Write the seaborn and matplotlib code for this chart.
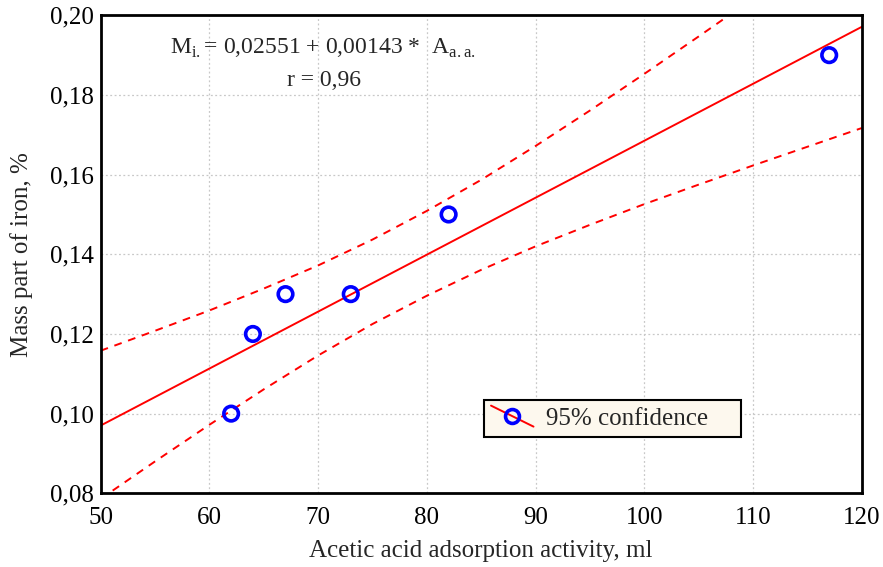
import numpy as np
import pandas as pd
import matplotlib
matplotlib.use("Agg")
import matplotlib.pyplot as plt
import seaborn as sns
from matplotlib.lines import Line2D
from matplotlib.legend_handler import HandlerBase
from matplotlib.ticker import FuncFormatter

# measured points
activity = [62, 64, 67, 73, 82, 117]
iron = [0.10, 0.12, 0.13, 0.13, 0.15, 0.19]

# fitted line
intercept = 0.02551
slope = 0.00143
line_x = [50, 120]

# 95% confidence band
band_x = [50, 55, 60, 65, 70, 75, 80, 85, 90, 95, 100, 105, 110, 115, 120]
band_upper = [0.1158, 0.1208, 0.1259, 0.1314, 0.1372, 0.1437, 0.1509, 0.1587,
              0.1672, 0.1761, 0.1853, 0.1947, 0.2042, 0.2138, 0.2235]
band_lower = [0.0786, 0.0880, 0.0972, 0.1061, 0.1146, 0.1225, 0.1296, 0.1361,
              0.1420, 0.1474, 0.1526, 0.1575, 0.1623, 0.1670, 0.1717]


class DiagHandler(HandlerBase):
    # red line drawn diagonally through the marker, like the original legend
    def create_artists(self, legend, orig, xd, yd, w, h, fs, trans):
        ln = Line2D([0, w], [h * 1.1, -h * 0.1], color="red", lw=1.4, transform=trans)
        mk = Line2D([w / 2], [h / 2], marker="o", markersize=10, markerfacecolor="none",
                    markeredgecolor="#0000ff", markeredgewidth=2.6, transform=trans)
        return [ln, mk]


sns.set_style("white")
plt.rcParams['font.family'] = ['Liberation Serif', 'DejaVu Serif']

df = pd.DataFrame({"x": activity, "y": iron})
fit = pd.DataFrame({"x": line_x, "y": [intercept + slope * v for v in line_x]})
band = pd.DataFrame({"x": band_x, "up": band_upper, "lo": band_lower})

fig = plt.figure(figsize=(8.83, 5.67), dpi=100)
ax = fig.add_axes([0.114, 0.13, 0.862, 0.843])

sns.lineplot(data=fit, x="x", y="y", color="red", lw=1.4, ax=ax)
sns.lineplot(data=band, x="x", y="up", color="red", lw=1.4, ax=ax, linestyle=(0, (4, 3.5)))
sns.lineplot(data=band, x="x", y="lo", color="red", lw=1.4, ax=ax, linestyle=(0, (4, 3.5)))
sns.scatterplot(data=df, x="x", y="y", s=110, facecolor="none", edgecolor="#0000ff",
                linewidth=2.6, ax=ax, zorder=5)

ax.set_xlim(50, 120)
ax.set_ylim(0.08, 0.20)
ax.set_xticks(range(50, 121, 10))
ax.set_yticks(np.arange(0.08, 0.2001, 0.02))
ax.yaxis.set_major_formatter(FuncFormatter(lambda v, p: f"{v:.2f}".replace(".", ",")))
ax.tick_params(direction="in", length=4, width=1.5, labelsize=18, colors="black")
ax.tick_params(axis="x", pad=10)
ax.tick_params(axis="y", pad=5)
ax.grid(True, color="#c8c8c8", linestyle=(0, (1.5, 2)), lw=0.9)
for s in ax.spines.values():
    s.set_color("black")
    s.set_linewidth(2)

ax.set_xlabel("Acetic acid adsorption activity, ml", fontsize=18, labelpad=8)
ax.set_ylabel("Mass part of iron, %", fontsize=18, labelpad=12)

ax.text(0.292, 0.931, r"M$_{\mathregular{i.}}$= 0,02551 + 0,00143 *  A$_{\mathregular{a.a.}}$",
        transform=ax.transAxes, ha="center", va="center", fontsize=17)
ax.text(0.293, 0.864, "r = 0,96", transform=ax.transAxes, ha="center", va="center", fontsize=17)

leg = ax.legend([object()], ["95% confidence    "], handler_map={object: DiagHandler()},
                loc="lower left", bbox_to_anchor=(0.503, 0.117),
                fontsize=18, frameon=True, fancybox=False, handlelength=1.7,
                borderpad=0.3, handletextpad=0.5, borderaxespad=0)
leg.get_frame().set_facecolor("#fdf8ee")
leg.get_frame().set_edgecolor("black")
leg.get_frame().set_linewidth(1.5)
leg.get_frame().set_alpha(1)

plt.savefig("out.png", dpi=100)
plt.close()
